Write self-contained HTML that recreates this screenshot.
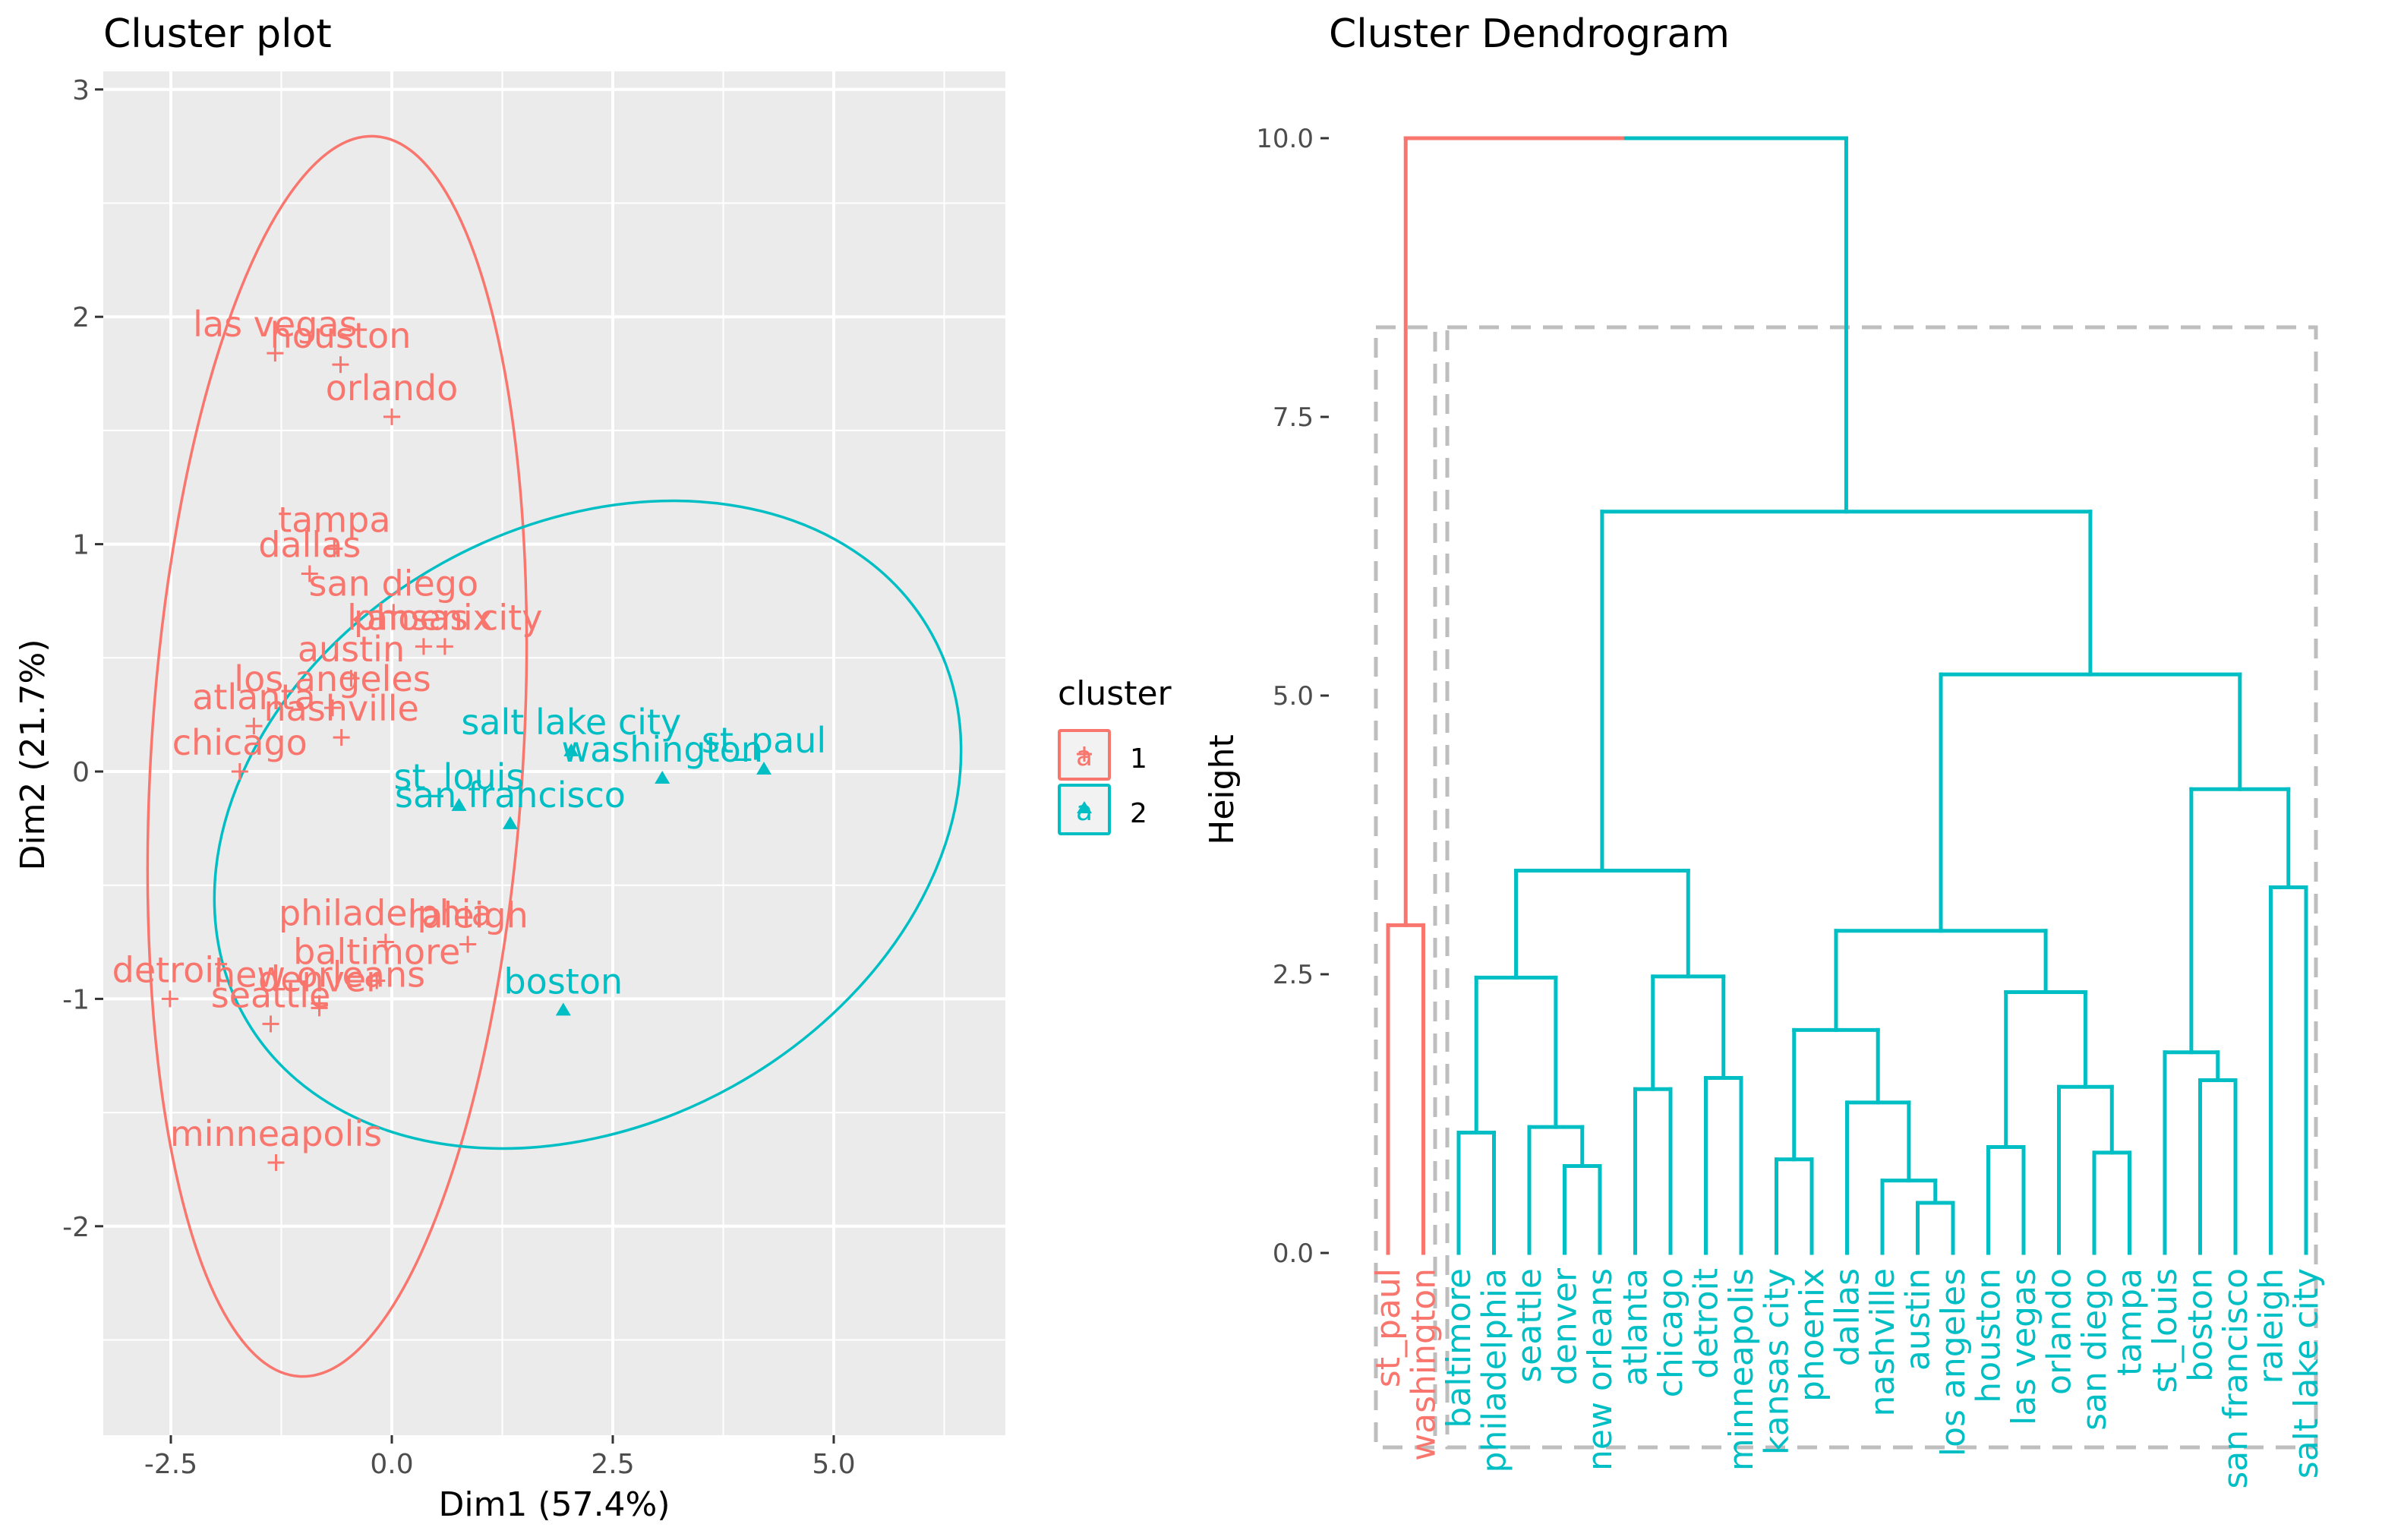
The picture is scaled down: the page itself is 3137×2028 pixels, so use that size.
<!DOCTYPE html>
<html><head><meta charset="utf-8"><style>
html,body{margin:0;padding:0;background:#fff;}
svg{display:block;font-family:"DejaVu Sans","Liberation Sans",sans-serif;}
</style></head><body>
<svg id="svg" width="3137" height="2028" viewBox="0 0 3137 2028" xmlns="http://www.w3.org/2000/svg">
<rect width="3137" height="2028" fill="#fff"/>
<text x="136" y="62" font-size="52" fill="#000">Cluster plot</text>
<rect x="136" y="94" width="1188" height="1796" fill="#ebebeb"/>
<g id="grid"></g>
<g id="ellipses">
<ellipse cx="444" cy="996" rx="245" ry="818" transform="rotate(3.5 444 996)" fill="none" stroke="#F8766D" stroke-width="3.5"/>
<ellipse cx="774" cy="1086" rx="518" ry="394" transform="rotate(-29 774 1086)" fill="none" stroke="#00BFC4" stroke-width="3.5"/>
</g>
<g id="points"></g>
<g id="axes"></g>
<text x="730" y="1996" font-size="44" text-anchor="middle" fill="#000">Dim1 (57.4%)</text>
<text x="0" y="0" font-size="44" text-anchor="middle" fill="#000" transform="translate(58 994) rotate(-90)">Dim2 (21.7%)</text>
<g>
<text x="1393" y="928" font-size="44" fill="#000">cluster</text>
<g>
<rect x="1395" y="962" width="66" height="64" fill="#f2f2f2" stroke="#F8766D" stroke-width="4" rx="2"/>
<text x="1428" y="1008" font-size="36" text-anchor="middle" fill="#F8766D">a</text>
<path d="M1418 993h20M1428 983v20" stroke="#F8766D" stroke-width="3"/>
<text x="1488" y="1011" font-size="36" fill="#000">1</text>
</g>
<g>
<rect x="1395" y="1034" width="66" height="64" fill="#f2f2f2" stroke="#00BFC4" stroke-width="4" rx="2"/>
<text x="1428" y="1080" font-size="36" text-anchor="middle" fill="#00BFC4">a</text>
<path d="M1428 1055l10 16h-20z" fill="#00BFC4"/>
<text x="1488" y="1083" font-size="36" fill="#000">2</text>
</g>
</g>
<text x="1750" y="62" font-size="52" fill="#000">Cluster Dendrogram</text>
<text x="0" y="0" font-size="44" text-anchor="middle" fill="#000" transform="translate(1624 1040) rotate(-90)">Height</text>
<g id="dendro"></g>
</svg>
<script>
// ---- cluster plot data ----
const cities = ["las vegas","houston","orlando","tampa","dallas","san diego","kansas city","phoenix","austin","los angeles","atlanta","nashville","chicago","salt lake city","washington","st_paul","st_louis","san francisco","philadelphia","raleigh","baltimore","detroit","new orleans","denver","seattle","boston","minneapolis"];
const dim1 = [-1.32,-0.58,0.0,-0.65,-0.93,0.02,0.60,0.36,-0.46,-0.67,-1.56,-0.57,-1.72,2.03,3.06,4.21,0.76,1.34,-0.07,0.86,-0.17,-2.51,-0.82,-0.82,-1.37,1.94,-1.31];
const dim2 = [1.84,1.79,1.56,0.98,0.87,0.70,0.55,0.55,0.41,0.28,0.20,0.15,0.0,0.09,-0.03,0.01,-0.15,-0.23,-0.75,-0.76,-0.92,-1.0,-1.02,-1.04,-1.11,-1.05,-1.72];
const clusterOf = [1,1,1,1,1,1,1,1,1,1,1,1,1,2,2,2,2,2,1,1,1,1,1,1,1,2,1];
const xTicks = [-2.5,0,2.5,5];
const xTickLabels = ["-2.5","0.0","2.5","5.0"];
const yTicks = [3,2,1,0,-1,-2];
const yTickLabels = ["3","2","1","0","-1","-2"];
const xMinor = [-1.25,1.25,3.75,6.25];
const yMinor = [2.5,1.5,0.5,-0.5,-1.5,-2.5];

// ---- dendrogram data ----
const leaves = ["st_paul","washington","baltimore","philadelphia","seattle","denver","new orleans","atlanta","chicago","detroit","minneapolis","kansas city","phoenix","dallas","nashville","austin","los angeles","houston","las vegas","orlando","san diego","tampa","st_louis","boston","san francisco","raleigh","salt lake city"];
const leafCluster = [1,1,2,2,2,2,2,2,2,2,2,2,2,2,2,2,2,2,2,2,2,2,2,2,2,2,2];
// negative = leaf index (-1 based), positive = merge node (1 based)
const mergeA = [-1,-3,-6,-5,2,-8,-10,6,5,-12,-16,-15,-14,10,-18,-21,-20,15,14,-24,-23,-26,21,19,9,1];
const mergeB = [-2,-4,-7,3,4,-9,-11,7,8,-13,-17,11,12,13,-19,-22,16,17,18,-25,20,-27,22,23,24,25];
const mergeH = [2.94,1.08,0.78,1.13,2.47,1.47,1.57,2.48,3.43,0.84,0.45,0.65,1.35,2.0,0.95,0.90,1.49,2.34,2.89,1.55,1.80,3.28,4.16,5.19,6.65,10.0];
const hTicks = [0,2.5,5,7.5,10];
const hTickLabels = ["0.0","2.5","5.0","7.5","10.0"];

const NS="http://www.w3.org/2000/svg";
const RED="#F8766D", CYAN="#00BFC4";
function mk(tag, parent){const e=document.createElementNS(NS,tag);parent.appendChild(e);return e;}
const xs=v=>516+v*116.4, ys=v=>1016-v*299.4;
const PX0=136,PX1=1324,PY0=94,PY1=1890;

const grid=document.getElementById('grid');
xMinor.forEach(v=>{const x=xs(v);if(x<PX0||x>PX1)return;const l=mk('line',grid);


l.setAttribute('x1',x);l.setAttribute('x2',x);l.setAttribute('y1',PY0);l.setAttribute('y2',PY1);l.setAttribute('stroke','#fff');l.setAttribute('stroke-width','2');});
yMinor.forEach(v=>{const y=ys(v);const l=mk('line',grid);


l.setAttribute('x1',PX0);l.setAttribute('x2',PX1);l.setAttribute('y1',y);l.setAttribute('y2',y);l.setAttribute('stroke','#fff');l.setAttribute('stroke-width','2');});
const axes=document.getElementById('axes');
xTicks.forEach((v,i)=>{const x=xs(v);const l=mk('line',grid);


l.setAttribute('x1',x);l.setAttribute('x2',x);l.setAttribute('y1',PY0);l.setAttribute('y2',PY1);l.setAttribute('stroke','#fff');l.setAttribute('stroke-width','4');
const t=mk('line',axes);


t.setAttribute('x1',x);t.setAttribute('x2',x);t.setAttribute('y1',PY1);t.setAttribute('y2',PY1+11);t.setAttribute('stroke','#333');t.setAttribute('stroke-width','3');
const tx=mk('text',axes);


tx.setAttribute('x',x);tx.setAttribute('y',PY1+50);tx.setAttribute('font-size','36');tx.setAttribute('text-anchor','middle');tx.setAttribute('fill','#4d4d4d');tx.textContent=xTickLabels[i];});
yTicks.forEach((v,i)=>{const y=ys(v);const l=mk('line',grid);


l.setAttribute('x1',PX0);l.setAttribute('x2',PX1);l.setAttribute('y1',y);l.setAttribute('y2',y);l.setAttribute('stroke','#fff');l.setAttribute('stroke-width','4');
const t=mk('line',axes);


t.setAttribute('x1',PX0-11);t.setAttribute('x2',PX0);t.setAttribute('y1',y);t.setAttribute('y2',y);t.setAttribute('stroke','#333');t.setAttribute('stroke-width','3');
const tx=mk('text',axes);


tx.setAttribute('x',PX0-18);tx.setAttribute('y',y+13);tx.setAttribute('font-size','36');tx.setAttribute('text-anchor','end');tx.setAttribute('fill','#4d4d4d');tx.textContent=yTickLabels[i];});

const pts=document.getElementById('points');
cities.forEach((c,i)=>{const x=xs(dim1[i]),y=ys(dim2[i]);const col=clusterOf[i]===1?RED:CYAN;
const g=mk('g',pts);


const p=mk('path',g);
if(clusterOf[i]===1){p.setAttribute('d',`M${x-11} ${y}h22M${x} ${y-11}v22`);p.setAttribute('stroke',col);p.setAttribute('stroke-width','3');}
else{p.setAttribute('d',`M${x} ${y-10}l10 17h-20z`);p.setAttribute('fill',col);}
const t=mk('text',g);t.setAttribute('x',x);t.setAttribute('y',y-22);t.setAttribute('font-size','46');t.setAttribute('text-anchor','middle');t.setAttribute('fill',col);t.textContent=c;});

// ---- dendrogram ----
const D=document.getElementById('dendro');
const lx=i=>1828+i*46.5, hy=h=>1650-h*146.8;
hTicks.forEach((v,i)=>{const y=hy(v);const t=mk('line',D);


t.setAttribute('x1',1739);t.setAttribute('x2',1750);t.setAttribute('y1',y);t.setAttribute('y2',y);t.setAttribute('stroke','#333');t.setAttribute('stroke-width','3');
const tx=mk('text',D);


tx.setAttribute('x',1730);tx.setAttribute('y',y+12);tx.setAttribute('font-size','34');tx.setAttribute('text-anchor','end');tx.setAttribute('fill','#4d4d4d');tx.textContent=hTickLabels[i];});
[[1812,1890],[1906,3050]].forEach(b=>{const r=mk('rect',D);


r.setAttribute('x',b[0]);r.setAttribute('y',431);r.setAttribute('width',b[1]-b[0]);r.setAttribute('height',1906-431);r.setAttribute('fill','none');r.setAttribute('stroke','#bebebe');r.setAttribute('stroke-width','5');r.setAttribute('stroke-dasharray','26 16');});
const nodeX=[],nodeC=[];
function cx(k){return k<0?lx(-k-1):nodeX[k-1];}
function ch(k){return k<0?0:mergeH[k-1];}
function cc(k){return k<0?leafCluster[-k-1]:nodeC[k-1];}
function seg(x1,y1,x2,y2,col){const l=mk('line',D);


l.setAttribute('x1',x1);l.setAttribute('y1',y1);l.setAttribute('x2',x2);l.setAttribute('y2',y2);l.setAttribute('stroke',col);l.setAttribute('stroke-width','5');l.setAttribute('stroke-linecap','square');}
mergeH.forEach((h,i)=>{const a=mergeA[i],b=mergeB[i];const xa=cx(a),xb=cx(b);const x=(xa+xb)/2;nodeX.push(x);
const ca=cc(a),cb=cc(b);nodeC.push(ca===cb?ca:0);const col=c=>c===1?RED:CYAN;const y=hy(h);
seg(xa,hy(ch(a)),xa,y,col(ca));seg(xb,hy(ch(b)),xb,y,col(cb));
if(ca===cb){seg(xa,y,xb,y,col(ca));}else{seg(xa,y,x,y,col(ca));seg(x,y,xb,y,col(cb));}});
leaves.forEach((n,i)=>{const t=mk('text',D);


const x=lx(i)+15,y=1670;t.setAttribute('transform',`translate(${x} ${y}) rotate(-90)`);t.setAttribute('font-size','44');t.setAttribute('text-anchor','end');t.setAttribute('fill',leafCluster[i]===1?RED:CYAN);t.textContent=n;});
</script>
</body></html>
